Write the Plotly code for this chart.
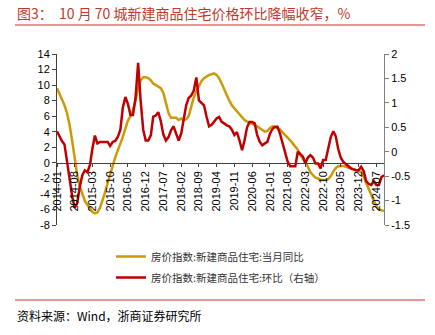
import plotly.graph_objects as go
import pandas as pd

# ---------------- data ----------------
months = pd.date_range("2014-01-01", "2024-10-01", freq="MS").strftime("%Y-%m-%d").tolist()

yoy = [
    # 2014
    9.6, 8.9, 8.2, 7.4, 6.4, 4.9, 2.9, 0.4, -1.6, -3.0, -4.1, -4.9,
    # 2015
    -5.4, -5.9, -6.3, -6.5, -6.4, -5.8, -4.9, -3.8, -2.6, -1.4, -0.3, 0.7,
    # 2016
    1.6, 2.4, 3.3, 4.4, 5.4, 6.0, 6.8, 8.0, 9.6, 10.6, 11.0, 11.0,
    # 2017
    10.9, 10.6, 10.2, 10.0, 9.8, 9.6, 9.0, 7.8, 6.4, 5.8, 5.8, 5.8,
    # 2018
    5.5, 5.7, 5.5, 5.6, 6.0, 7.2, 8.4, 9.2, 9.9, 10.5, 10.9, 11.1,
    # 2019
    11.3, 11.4, 11.5, 11.3, 10.9, 10.2, 9.4, 8.6, 8.0, 7.4, 7.0, 6.7,
    # 2020
    6.3, 5.9, 5.5, 5.3, 5.1, 5.0, 4.9, 4.7, 4.5, 4.3, 4.0, 4.1,
    # 2021
    4.5, 4.7, 4.6, 4.5, 4.3, 3.9, 3.6, 3.3, 2.9, 2.5, 2.1, 1.7,
    # 2022
    1.0, 0.6, 0.1, -0.5, -1.2, -1.6, -1.9, -2.0, -2.2, -2.2, -2.2, -2.1,
    # 2023
    -1.7, -1.1, -0.7, -0.45, -0.4, -0.4, -0.5, -0.6, -0.7, -0.85, -0.95, -1.05,
    # 2024
    -1.2, -1.8, -2.6, -3.4, -4.2, -5.0, -5.6, -6.0, -6.1, -6.2,
]

mom = [
    # 2014
    0.42, 0.30, 0.22, 0.15, -0.15, -0.55, -0.90, -1.15, -1.05, -0.72, -0.48, -0.38,
    # 2015
    -0.42, -0.27, 0.05, 0.33, 0.17, 0.20, 0.20, 0.20, 0.20, 0.12, 0.20, 0.22,
    # 2016
    0.30, 0.45, 0.90, 1.12, 0.98, 0.75, 0.75, 1.10, 1.82, 1.05, 0.45, 0.23,
    # 2017
    0.23, 0.34, 0.72, 0.74, 0.81, 0.62, 0.35, 0.23, 0.30, 0.44, 0.52, 0.37,
    # 2018
    0.23, 0.38, 0.65, 0.95, 1.10, 1.15, 1.25, 1.52, 1.05, 1.01, 0.95, 0.72,
    # 2019
    0.52, 0.55, 0.61, 0.68, 0.71, 0.61, 0.58, 0.54, 0.52, 0.45, 0.34, 0.40,
    # 2020
    0.23, 0.03, 0.23, 0.50, 0.61, 0.61, 0.58, 0.34, 0.20, 0.13, 0.17, 0.20,
    # 2021
    0.37, 0.47, 0.51, 0.51, 0.37, 0.17, 0.02, -0.20, -0.30, -0.30, -0.30, 0.00,
    # 2022
    -0.05, -0.10, -0.24, -0.12, -0.07, -0.12, -0.24, -0.24, -0.34, -0.17, -0.17, 0.05,
    # 2023
    0.30, 0.42, 0.32, 0.05, -0.12, -0.21, -0.25, -0.30, -0.34, -0.36, -0.38, -0.38,
    # 2024
    -0.31, -0.40, -0.60, -0.66, -0.68, -0.60, -0.68, -0.68, -0.52, -0.48,
]

x_tick_vals = pd.date_range("2014-01-01", "2024-10-01", freq="7MS").strftime("%Y-%m-%d").tolist()
x_tick_text = pd.date_range("2014-01-01", "2024-10-01", freq="7MS").strftime("%Y-%m").tolist()

y1_tick_vals = [-8, -6, -4, -2, 0, 2, 4, 6, 8, 10, 12, 14]
y1_tick_text = ["-8", "-6", "-4", "-2", "0", "2", "4", "6", "8", "10", "12", "14"]
y2_tick_vals = [-1.5, -1, -0.5, 0, 0.5, 1, 1.5, 2]
y2_tick_text = ["-1.5", "-1", "-0.5", "0", "0.5", "1", "1.5", "2"]

name_yoy = "房价指数:新建商品住宅:当月同比"
name_mom = "房价指数:新建商品住宅:环比（右轴）"
title_text = "图3：  10 月 70 城新建商品住宅价格环比降幅收窄，%"
source_text = "资料来源：Wind，浙商证券研究所"

# ---------------- figure ----------------
W, H = 435, 335
L, R, T, B = 57, 51, 54, 110
pw, ph = W - L - R, H - T - B

def px_x(px):
    return (px - L) / pw

def px_y(py):
    return (H - B - py) / ph

GOLD = "#CC9A06"
RED = "#C00000"
CJK = "Noto Sans CJK SC"

fig = go.Figure()
fig.add_trace(go.Scatter(x=months, y=yoy, mode="lines", name=name_yoy,
                         line=dict(color=GOLD, width=2.5), yaxis="y", legendgroup="a"))
fig.add_trace(go.Scatter(x=months, y=mom, mode="lines", name=name_mom,
                         line=dict(color=RED, width=2.5), yaxis="y2", legendgroup="b"))

zero_frac = 8 / 22

fig.update_layout(
    width=W, height=H,
    margin=dict(l=L, r=R, t=T, b=B, pad=0),
    paper_bgcolor="white", plot_bgcolor="white",
    font=dict(family="Liberation Sans, Arial", size=11, color="black"),
    showlegend=True,
    legend=dict(x=px_x(111), y=px_y(242), xanchor="left", yanchor="top",
                font=dict(family=CJK, size=10.5, color="#333333"),
                bgcolor="rgba(0,0,0,0)", tracegroupgap=2, traceorder="grouped",
                itemwidth=30),
    xaxis=dict(type="date", range=[months[0], months[-1]],
               tickvals=x_tick_vals, ticktext=x_tick_text, tickangle=-90,
               anchor="free", position=zero_frac,
               showline=True, linecolor="#404040", linewidth=1,
               ticks="outside", ticklen=3, tickcolor="#404040",
               showgrid=False, zeroline=False,
               tickfont=dict(size=11)),
    yaxis=dict(range=[-8, 14], tickvals=y1_tick_vals, ticktext=y1_tick_text,
               showline=True, linecolor="#404040", linewidth=1,
               ticks="outside", ticklen=4, tickcolor="#404040",
               showgrid=False, zeroline=False, tickfont=dict(size=11)),
    yaxis2=dict(range=[-1.5, 2], tickvals=y2_tick_vals, ticktext=y2_tick_text,
                overlaying="y", side="right",
                showline=True, linecolor="#808080", linewidth=1,
                ticks="outside", ticklen=4, tickcolor="#808080",
                showgrid=False, zeroline=False, tickfont=dict(size=11)),
)

fig.add_annotation(text=title_text, xref="paper", yref="paper",
                   x=px_x(15), y=px_y(13), xanchor="left", yanchor="middle",
                   showarrow=False, font=dict(family=CJK, size=14, color="#C0392B"))
fig.add_annotation(text=source_text, xref="paper", yref="paper",
                   x=px_x(15), y=px_y(315), xanchor="left", yanchor="middle",
                   showarrow=False, font=dict(family=CJK, size=12, color="black"))

fig.add_shape(type="line", xref="paper", yref="paper",
              x0=px_x(15), x1=px_x(425), y0=px_y(25), y1=px_y(25),
              line=dict(color="#E07070", width=1.5))
fig.add_shape(type="line", xref="paper", yref="paper",
              x0=px_x(15), x1=px_x(425), y0=px_y(300), y1=px_y(300),
              line=dict(color="#E07070", width=1.5))

fig.write_html("out.html")
